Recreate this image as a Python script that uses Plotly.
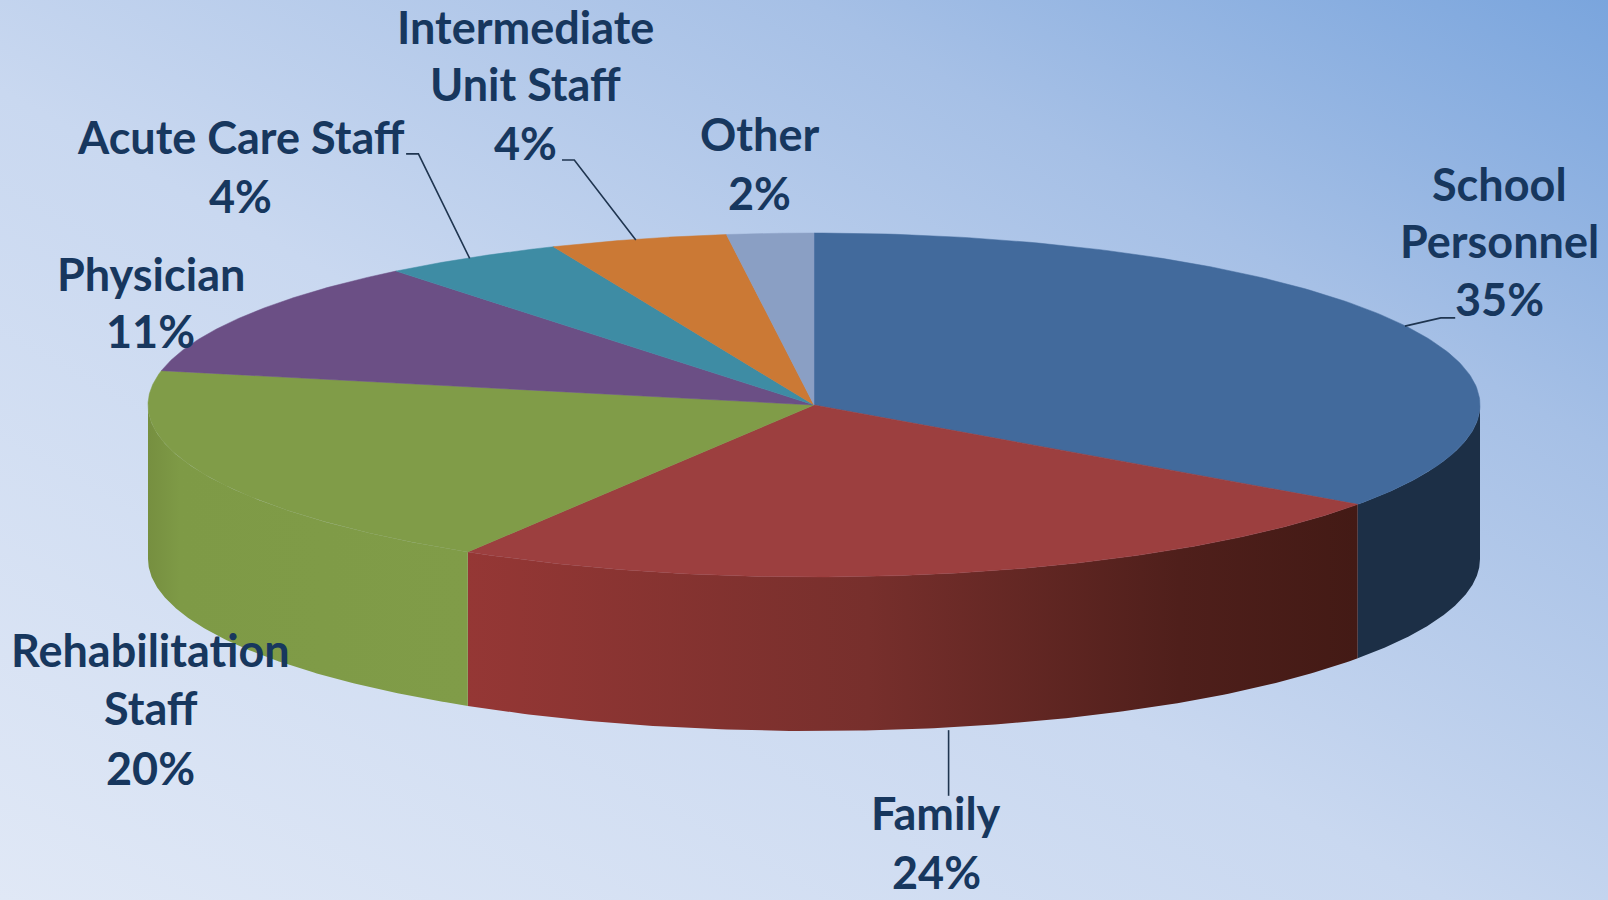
import numpy as np
import plotly.graph_objects as go

# Data
categories = ["School\nPersonnel", "Family", "Rehabilitation\nStaff", "Physician",
              "Acute Care Staff", "Intermediate\nUnit Staff", "Other"]
shares = [34.8, 23.9, 19.5, 11.0, 4.4, 4.3, 2.1]
shown_percent = [35, 24, 20, 11, 4, 4, 2]

# Styles
top_colors = ["#426a9c", "#9c3f3f", "#809c48", "#6b4f85", "#3e8ca4", "#cb7935", "#8a9fc4"]
side_scales = {
    0: [[0, "#1c2f46"], [1, "#1c2f46"]],
    1: [[0, "#953735"], [0.45, "#772f2c"], [0.8, "#4f1f1b"], [1, "#431a15"]],
    2: [[0, "#768f40"], [0.1, "#7e9a46"], [1, "#809c48"]],
}
TEXT = "#17375e"
W, H = 1608, 900
CX, CY, RX, RY, DEPTH = 814.0, 405.0, 666.0, 172.0, 154.0
S = 1608 / 1568


def ell(deg, drop=0.0):
    a = np.radians(deg)
    return CX + RX * np.sin(a), CY - RY * np.cos(a) + drop


edges = np.concatenate([[0], np.cumsum(shares)]) / np.sum(shares) * 360
fig = go.Figure()

# Side walls (front half only)
for i in range(3):
    lo, hi = max(edges[i], 90), min(edges[i + 1], 270)
    t = np.linspace(lo, hi, 160)
    xt, yt = ell(t)
    xb, yb = ell(t[::-1], DEPTH)
    x = np.concatenate([xt, xb])
    y = np.concatenate([yt, yb])
    fig.add_trace(go.Scatter(
        x=x, y=y, mode="lines", line=dict(width=0), hoverinfo="skip",
        fill="toself",
        fillgradient=dict(type="horizontal", colorscale=side_scales[i],
                          start=float(x.min()), stop=float(x.max())),
    ))

# Top faces
for i, c in enumerate(top_colors):
    t = np.linspace(edges[i], edges[i + 1], 160)
    xt, yt = ell(t)
    fig.add_trace(go.Scatter(
        x=np.concatenate([[CX], xt, [CX]]), y=np.concatenate([[CY], yt, [CY]]),
        mode="lines", line=dict(width=0.5, color=c), fill="toself", fillcolor=c,
        hoverinfo="skip",
    ))

# Leader lines
leaders = [
    [(1370, 318), (1405, 310), (1419, 310)],
    [(925, 712), (925, 776)],
    [(458, 252), (408, 150), (396, 150)],
    [(620, 234), (560, 156), (548, 156)],
]
for pts in leaders:
    fig.add_trace(go.Scatter(
        x=[p[0] * S for p in pts], y=[p[1] * S for p in pts], mode="lines",
        line=dict(color="#1f3550", width=1.6), hoverinfo="skip",
    ))

# Labels: centre x and y of each line
label_pos = [
    (1462, [179, 235, 292]),
    (913, [793, 850]),
    (147, [634, 690, 749]),
    (147, [267, 323]),
    (235, [134, 191]),
    (512, [26, 82, 139]),
    (741, [131, 188]),
]
annotations = []
for name, pct, (lx, ys) in zip(categories, shown_percent, label_pos):
    lines = name.split("\n") + [f"{pct}%"]
    for line, ly in zip(lines, ys):
        annotations.append(dict(
            x=lx * S, y=ly * S, xref="x", yref="y", text=line, showarrow=False,
            xanchor="center", yanchor="middle",
            font=dict(family="Lato", size=45, color=TEXT, weight=700),
        ))

fig.update_layout(
    width=W, height=H, margin=dict(l=0, r=0, t=0, b=0), showlegend=False,
    paper_bgcolor="rgba(0,0,0,0)", plot_bgcolor="rgba(0,0,0,0)",
    xaxis=dict(range=[0, W], visible=False, fixedrange=True),
    yaxis=dict(range=[H, 0], visible=False, fixedrange=True),
    annotations=annotations,
)

post = """
document.documentElement.style.margin='0';
document.body.style.margin='0';
document.body.style.overflow='hidden';
document.body.style.background='linear-gradient(to top right,#e0e8f6 0%,#c9d8f0 45%,#a6c0e6 75%,#7aa5dd 100%)';
document.body.style.minHeight='900px';
"""
fig.write_html("out.html", post_script=post, config=dict(displayModeBar=False))
